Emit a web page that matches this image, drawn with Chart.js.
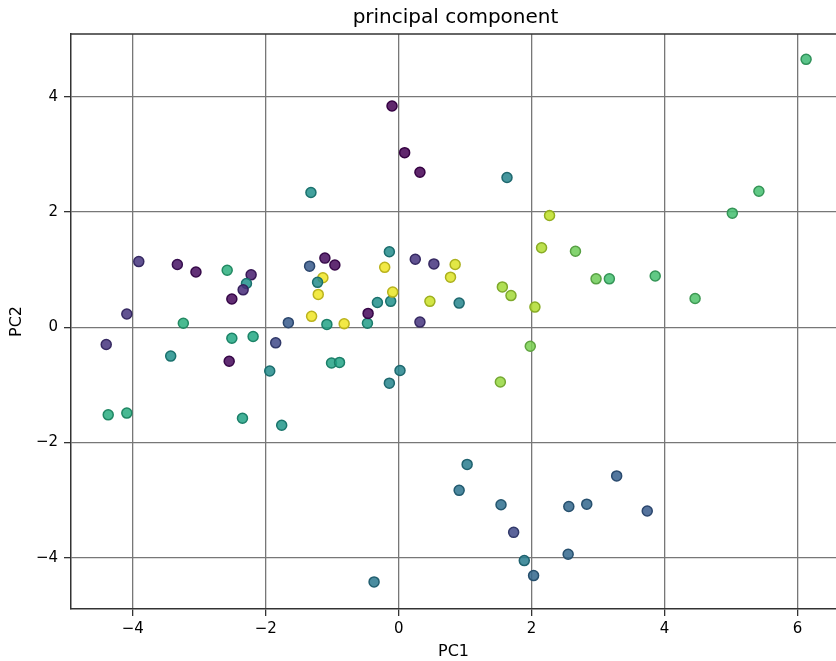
<!DOCTYPE html>
<html><head><meta charset="utf-8">
<script src="https://cdn.jsdelivr.net/npm/chart.js@4"></script>
<style>html,body{margin:0;padding:0;background:#fff}#wrap{width:836px;height:661px}</style>
</head><body><div id="wrap"><canvas id="c" width="836" height="661"></canvas></div>
<script>
// ---- data ----
const pc1 = [-0.10, 0.09, 0.32, -1.32, 1.63, 6.13, 5.42, 5.02, 2.27, 2.15,
  2.66, 2.97, 3.17, 3.86, 4.46, -3.91, -3.33, -3.05, -2.58, -2.22,
  -2.29, -2.34, -2.51, -4.09, -3.24, -4.40, -2.51, -2.19, -1.85, -1.66,
  -1.34, -1.11, -0.96, -1.14, -1.22, -1.21, -1.31, -1.08, -0.82, -0.47,
  -0.46, -0.32, -0.12, -0.14, -0.21, -0.09, 0.25, 0.53, 0.85, 0.78,
  0.47, 0.91, 0.32, 1.56, 1.69, 2.05, 1.98, 1.53, -3.43, -2.55,
  -1.94, -1.01, -0.89, 0.02, -0.14, -4.37, -4.09, -2.35, -1.76, -0.37,
  1.03, 0.91, 1.54, 2.56, 2.83, 3.28, 3.74, 1.73, 2.55, 1.89, 2.03];
const pc2 = [3.84, 3.03, 2.69, 2.34, 2.60, 4.65, 2.36, 1.98, 1.94, 1.38,
  1.32, 0.84, 0.84, 0.89, 0.50, 1.14, 1.09, 0.96, 0.99, 0.91,
  0.76, 0.65, 0.49, 0.23, 0.07, -0.30, -0.19, -0.16, -0.27, 0.08,
  1.06, 1.20, 1.08, 0.86, 0.78, 0.57, 0.19, 0.05, 0.06, 0.07,
  0.24, 0.43, 0.45, 1.31, 1.04, 0.61, 1.18, 1.10, 1.09, 0.87,
  0.45, 0.42, 0.09, 0.70, 0.55, 0.35, -0.33, -0.95, -0.50, -0.59,
  -0.76, -0.62, -0.61, -0.75, -0.97, -1.52, -1.49, -1.58, -1.70, -4.42,
  -2.38, -2.83, -3.08, -3.11, -3.07, -2.58, -3.19, -3.56, -3.94, -4.05, -4.31];
const colorValue = [0.00, 0.00, 0.00, 0.50, 0.45, 0.68, 0.70, 0.70, 0.90, 0.88,
  0.78, 0.78, 0.70, 0.70, 0.72, 0.15, 0.05, 0.03, 0.63, 0.08,
  0.50, 0.12, 0.02, 0.15, 0.63, 0.15, 0.60, 0.60, 0.22, 0.28,
  0.28, 0.03, 0.02, 0.98, 0.48, 0.98, 0.98, 0.58, 0.98, 0.55,
  0.02, 0.50, 0.50, 0.48, 0.98, 0.97, 0.15, 0.15, 0.95, 0.95,
  0.92, 0.45, 0.15, 0.86, 0.86, 0.88, 0.80, 0.84, 0.50, 0.02,
  0.48, 0.58, 0.58, 0.45, 0.45, 0.62, 0.62, 0.58, 0.52, 0.40,
  0.42, 0.38, 0.36, 0.33, 0.33, 0.30, 0.28, 0.22, 0.33, 0.42, 0.33];
const xTicks = [-4, -2, 0, 2, 4, 6];
const yTicks = [-4, -2, 0, 2, 4];
const xRange = [-4.93, 6.58];
const yRange = [-4.89, 5.09];
const titleText = 'principal component';
const xLabel = 'PC1';
const yLabel = 'PC2';

// ---- viridis colormap ----
const viridisStops = ['#440154','#482475','#414487','#355f8d','#2a788e','#21918c','#22a884','#44bf70','#7ad151','#bddf26','#fde725'];
function hexToRgb(h){return [parseInt(h.slice(1,3),16),parseInt(h.slice(3,5),16),parseInt(h.slice(5,7),16)];}
function viridis(t){
  t = Math.max(0, Math.min(1, t));
  const p = t * (viridisStops.length - 1);
  const i = Math.min(Math.floor(p), viridisStops.length - 2);
  const f = p - i;
  const a = hexToRgb(viridisStops[i]), b = hexToRgb(viridisStops[i+1]);
  return a.map((v,k)=>Math.round(v + (b[k]-v)*f));
}
const fills = colorValue.map(v => { const c = viridis(v); return `rgba(${c[0]},${c[1]},${c[2]},0.85)`; });
const edges = colorValue.map(v => { const c = viridis(v).map(x=>Math.round(x*0.78)); return `rgb(${c[0]},${c[1]},${c[2]})`; });

const points = pc1.map((x, i) => ({x, y: pc2[i]}));
const fmt = v => (v < 0 ? '\u2212' + Math.abs(v) : String(v));
const FONT = "'DejaVu Sans', sans-serif";

const frame = {
  id: 'frame',
  afterDraw(chart) {
    const {ctx, chartArea: a} = chart;
    ctx.save();
    ctx.strokeStyle = '#333';
    ctx.lineWidth = 1.5;
    ctx.beginPath();
    ctx.moveTo(a.left, a.top);
    ctx.lineTo(a.right, a.top);
    ctx.stroke();
    ctx.fillStyle = '#000';
    ctx.font = "20px " + FONT;
    ctx.textAlign = 'center';
    ctx.textBaseline = 'alphabetic';
    ctx.fillText(titleText, 455.5, 23);
    ctx.restore();
  }
};

new Chart(document.getElementById('c'), {
  type: 'scatter',
  data: { datasets: [{
    data: points,
    backgroundColor: fills,
    borderColor: edges,
    borderWidth: 1.5,
    pointRadius: 5,
    pointHoverRadius: 5
  }]},
  options: {
    responsive: false,
    animation: false,
    devicePixelRatio: 1,
    layout: { autoPadding: false, padding: { top: 34, right: 0, bottom: 0, left: 0 } },
    plugins: {
      legend: { display: false },
      tooltip: { enabled: false },
      title: { display: false }
    },
    scales: {
      x: {
        type: 'linear', position: 'bottom', min: xRange[0], max: xRange[1],
        afterBuildTicks: s => { s.ticks = xTicks.map(v => ({value: v})); },
        afterFit: s => { s.height = 52; s.paddingLeft = 0; s.paddingRight = 0; },
        ticks: { color: '#000', font: { family: FONT, size: 15 }, padding: 4, callback: v => fmt(v), maxRotation: 0 },
        grid: { color: '#777', lineWidth: 1.3, tickColor: '#333', tickLength: 7, drawTicks: true },
        border: { display: true, color: '#333', width: 1.5 },
        title: { display: true, text: xLabel, color: '#000', font: { family: FONT, size: 16, lineHeight: 1.2 }, padding: { top: 2, bottom: 0 } }
      },
      y: {
        type: 'linear', position: 'left', min: yRange[0], max: yRange[1],
        afterBuildTicks: s => { s.ticks = yTicks.map(v => ({value: v})); },
        afterFit: s => { s.width = 71; s.paddingTop = 0; s.paddingBottom = 0; },
        ticks: { color: '#000', font: { family: FONT, size: 15 }, padding: 6, callback: v => fmt(v) },
        grid: { color: '#777', lineWidth: 1.3, tickColor: '#333', tickLength: 7, drawTicks: true },
        border: { display: true, color: '#333', width: 1.5 },
        title: { display: true, text: yLabel, color: '#000', font: { family: FONT, size: 16, lineHeight: 1.2 }, padding: { top: 7, bottom: 0 } }
      }
    }
  },
  plugins: [frame]
});
</script>
</body></html>
